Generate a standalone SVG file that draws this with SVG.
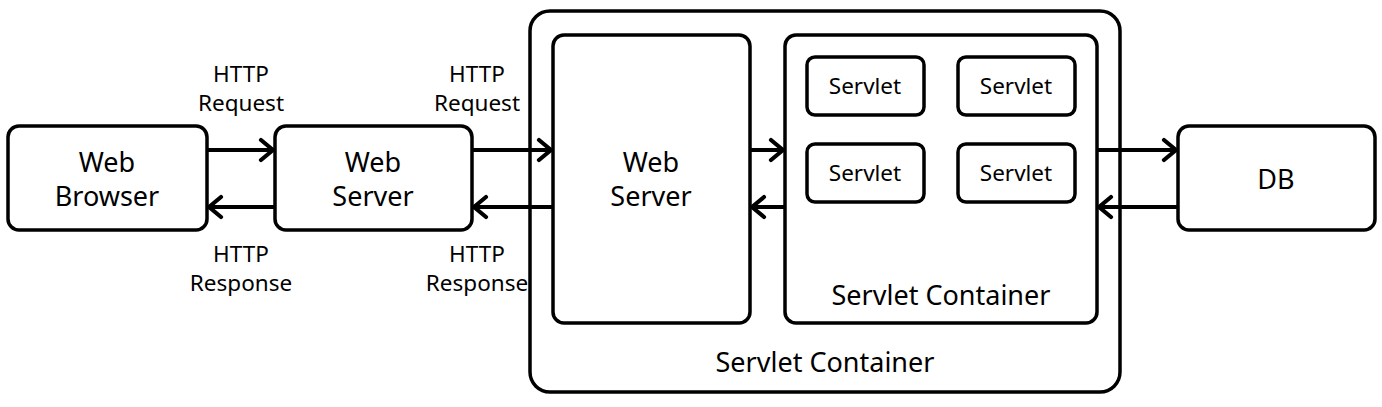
<svg xmlns="http://www.w3.org/2000/svg" width="1382" height="407" viewBox="0 0 1382 407">
<style>
.box{fill:#fff;stroke:#000;stroke-width:3.5}
.t{font-family:"Noto Sans","Open Sans","Liberation Sans",sans-serif;fill:#000;text-anchor:middle}
.big{font-size:27px}
.sm{font-size:22.5px}
.c{stroke:#000;stroke-width:4;fill:none}
</style>
<defs>
<marker id="ah" viewBox="0 0 17 26" refX="15" refY="13" markerWidth="17" markerHeight="26" markerUnits="userSpaceOnUse" orient="auto">
<path d="M3,3 L15,13 L3,23" fill="none" stroke="#000" stroke-width="4.2" stroke-linecap="round" stroke-linejoin="miter"/>
</marker>
</defs>
<g id="outer-container">
<rect class="box" x="530" y="11" width="590" height="381" rx="20"/>
<text class="t big" x="825" y="372">Servlet Container</text>
</g>
<g id="web-browser">
<rect class="box" x="8" y="126" width="199" height="104" rx="11"/>
<text class="t big" x="107" y="172">Web</text>
<text class="t big" x="107" y="206">Browser</text>
</g>
<g id="web-server-1">
<rect class="box" x="275" y="126" width="197" height="104" rx="11"/>
<text class="t big" x="373" y="172">Web</text>
<text class="t big" x="373" y="206">Server</text>
</g>
<g id="web-server-2">
<rect class="box" x="553" y="35" width="197" height="288" rx="11"/>
<text class="t big" x="651" y="172">Web</text>
<text class="t big" x="651" y="206">Server</text>
</g>
<g id="servlet-container">
<rect class="box" x="785" y="35" width="312" height="288" rx="11"/>
<text class="t big" x="941" y="305">Servlet Container</text>
</g>
<g id="servlet-1">
<rect class="box" x="807" y="57" width="117" height="58" rx="8"/>
<text class="t sm" x="865" y="94">Servlet</text>
</g>
<g id="servlet-2">
<rect class="box" x="958" y="57" width="117" height="58" rx="8"/>
<text class="t sm" x="1016" y="94">Servlet</text>
</g>
<g id="servlet-3">
<rect class="box" x="807" y="144" width="117" height="58" rx="8"/>
<text class="t sm" x="865" y="181">Servlet</text>
</g>
<g id="servlet-4">
<rect class="box" x="958" y="144" width="117" height="58" rx="8"/>
<text class="t sm" x="1016" y="181">Servlet</text>
</g>
<g id="db">
<rect class="box" x="1178" y="126" width="197" height="104" rx="11"/>
<text class="t big" x="1276" y="189">DB</text>
</g>
<g id="connectors">
<line class="c" x1="207" y1="150" x2="273" y2="150" marker-end="url(#ah)"/>
<line class="c" x1="275" y1="207" x2="209" y2="207" marker-end="url(#ah)"/>
<line class="c" x1="472" y1="150" x2="551" y2="150" marker-end="url(#ah)"/>
<line class="c" x1="553" y1="207" x2="474" y2="207" marker-end="url(#ah)"/>
<line class="c" x1="750" y1="150" x2="783" y2="150" marker-end="url(#ah)"/>
<line class="c" x1="785" y1="207" x2="752" y2="207" marker-end="url(#ah)"/>
<line class="c" x1="1097" y1="150" x2="1176" y2="150" marker-end="url(#ah)"/>
<line class="c" x1="1178" y1="207" x2="1099" y2="207" marker-end="url(#ah)"/>
</g>
<g id="labels">
<text class="t sm" x="241" y="82">HTTP</text>
<text class="t sm" x="241" y="111">Request</text>
<text class="t sm" x="241" y="262">HTTP</text>
<text class="t sm" x="241" y="291">Response</text>
<text class="t sm" x="477" y="82">HTTP</text>
<text class="t sm" x="477" y="111">Request</text>
<text class="t sm" x="477" y="262">HTTP</text>
<text class="t sm" x="477" y="291">Response</text>
</g>
</svg>
